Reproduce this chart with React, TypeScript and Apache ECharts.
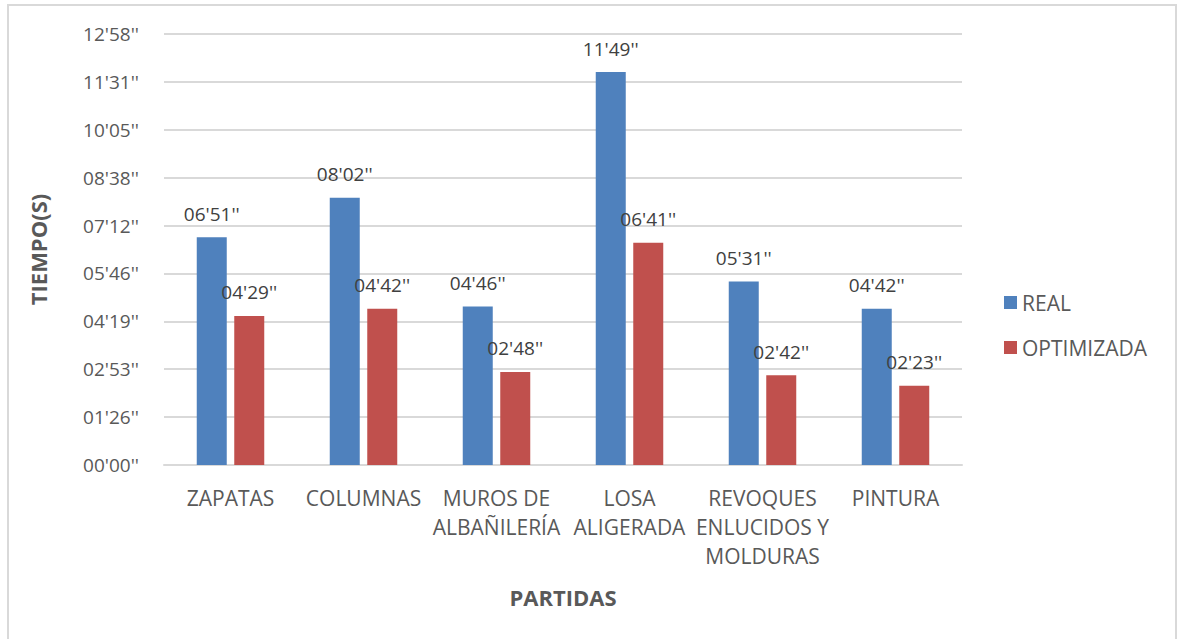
import React, { useEffect, useRef } from "react";
import * as echarts from "echarts";

const categories = [
  "ZAPATAS",
  "COLUMNAS",
  "MUROS DE\nALBAÑILERÍA",
  "LOSA\nALIGERADA",
  "REVOQUES\nENLUCIDOS Y\nMOLDURAS",
  "PINTURA",
];
// seconds
const realValues = [411, 482, 286, 709, 331, 282];
const optimizadaValues = [269, 282, 168, 401, 162, 143];
const seriesNames = ["REAL", "OPTIMIZADA"];
const yMax = 777.6;
const yInterval = 86.4;

const FONT = "'Open Sans', 'Noto Sans', sans-serif";

function fmt(v: number): string {
  const s = Math.round(v);
  const m = Math.floor(s / 60);
  const r = s % 60;
  return String(m).padStart(2, "0") + "'" + String(r).padStart(2, "0") + "''";
}

export default function App() {
  const ref = useRef<HTMLDivElement>(null);
  useEffect(() => {
    if (!ref.current) return;
    const chart = echarts.init(ref.current, null, { renderer: "svg" });
    const labelCfg = {
      show: true,
      position: "top" as const,
      distance: 14,
      color: "#404040",
      fontFamily: FONT,
      fontSize: 19,
      formatter: (p: any) => fmt(p.value),
    };
    chart.setOption({
      animation: false,
      backgroundColor: "#ffffff",
      textStyle: { fontFamily: FONT },
      graphic: [
        {
          type: "rect",
          shape: { x: 8, y: 5, width: 1168, height: 700 },
          style: { fill: "none", stroke: "#d9d9d9", lineWidth: 2 },
          silent: true,
        },
      ],
      grid: { left: 164, right: 215, top: 34, bottom: 174, containLabel: false },
      legend: {
        orient: "vertical",
        left: 999,
        top: 287,
        itemWidth: 13,
        itemHeight: 13,
        itemGap: 24,
        icon: "rect",
        textStyle: { color: "#595959", fontSize: 21, fontFamily: FONT },
        data: seriesNames,
      },
      xAxis: {
        type: "category",
        data: categories,
        name: "PARTIDAS",
        nameLocation: "middle",
        nameGap: 121,
        nameTextStyle: { color: "#595959", fontSize: 22, fontWeight: "bold", fontFamily: FONT },
        axisLine: { show: true, lineStyle: { color: "#d9d9d9", width: 2 } },
        axisTick: { show: false },
        axisLabel: {
          color: "#595959",
          fontSize: 21,
          fontFamily: FONT,
          lineHeight: 29,
          margin: 18,
          interval: 0,
        },
      },
      yAxis: {
        type: "value",
        min: 0,
        max: yMax,
        interval: yInterval,
        name: "TIEMPO(S)",
        nameLocation: "middle",
        nameGap: 115,
        nameRotate: 90,
        nameTextStyle: { color: "#595959", fontSize: 22, fontWeight: "bold", fontFamily: FONT },
        axisLine: { show: false },
        axisTick: { show: false },
        axisLabel: {
          color: "#595959",
          fontSize: 19,
          fontFamily: FONT,
          margin: 25,
          formatter: (v: number) => fmt(v),
        },
        splitLine: { lineStyle: { color: "#d9d9d9", width: 2 } },
      },
      series: [
        {
          name: seriesNames[0],
          type: "bar",
          data: realValues,
          barWidth: 30,
          barGap: "25%",
          itemStyle: { color: "#4f81bd" },
          label: labelCfg,
        },
        {
          name: seriesNames[1],
          type: "bar",
          data: optimizadaValues,
          barWidth: 30,
          barGap: "25%",
          itemStyle: { color: "#c0504d" },
          label: labelCfg,
        },
      ],
    });
    return () => chart.dispose();
  }, []);
  return (
    <div
      ref={ref}
      style={{ position: "fixed", left: 0, top: 0, width: 1177, height: 639 }}
    />
  );
}
